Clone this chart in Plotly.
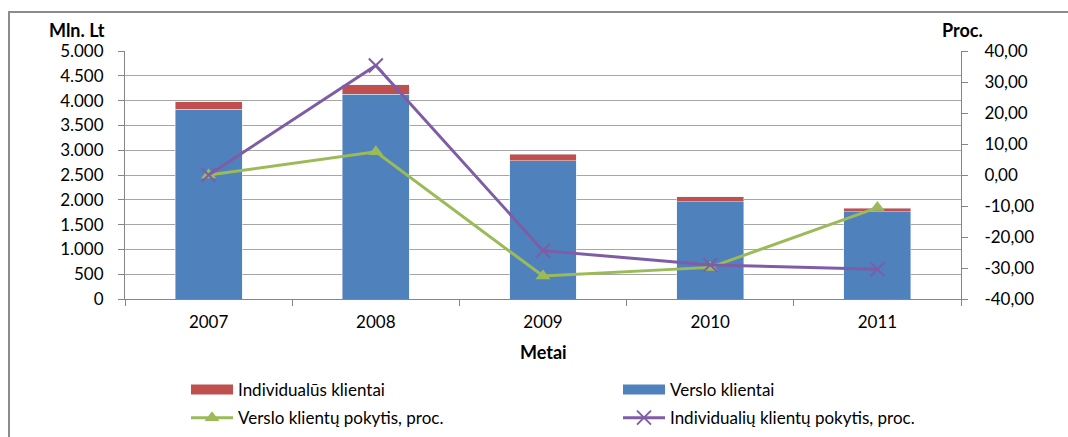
import plotly.graph_objects as go

years = ["2007", "2008", "2009", "2010", "2011"]
verslo = [3830, 4127, 2788, 1956, 1760]
individualus = [150, 188, 135, 107, 69]
verslo_pokytis = [0.0, 7.5, -32.6, -29.8, -10.5]
individ_pokytis = [0.0, 35.3, -24.4, -29.0, -30.4]

left_ticks = [0, 500, 1000, 1500, 2000, 2500, 3000, 3500, 4000, 4500, 5000]
left_labels = ["0", "500", "1.000", "1.500", "2.000", "2.500", "3.000", "3.500", "4.000", "4.500", "5.000"]
right_ticks = [-40, -30, -20, -10, 0, 10, 20, 30, 40]
right_labels = ["-40,00", "-30,00", "-20,00", "-10,00", "0,00", "10,00", "20,00", "30,00", "40,00"]

BLUE = "#4F81BD"
RED = "#C0504D"
GREEN = "#9BBB59"
PURPLE = "#7F5DA6"
FONT = "Lato"
FS = 17

W, H = 1068, 437
L, R, T, B = 125, 107, 51, 138
PW = W - L - R
PH = H - T - B

fig = go.Figure()
fig.add_trace(go.Bar(x=years, y=verslo, marker_color=BLUE, width=0.4,
                     showlegend=False, name="Verslo klientai"))
fig.add_trace(go.Bar(x=years, y=individualus, marker_color=RED, width=0.4,
                     showlegend=False, name="Individualūs klientai"))
# legend entries for bars (wide swatches)
fig.add_trace(go.Scatter(x=[years[0]], y=[None], mode="lines",
                         line=dict(color=RED, width=10), name="Individualūs klientai",
                         legend="legend", legendgroup="a"))
fig.add_trace(go.Scatter(x=[years[0]], y=[None], mode="lines",
                         line=dict(color=BLUE, width=10), name="Verslo klientai",
                         legend="legend2", legendgroup="c"))
fig.add_trace(go.Scatter(x=years, y=verslo_pokytis, yaxis="y2", mode="lines+markers",
                         line=dict(color=GREEN, width=3),
                         marker=dict(symbol="triangle-up", size=13, color=GREEN),
                         name="Verslo klientų pokytis, proc.",
                         legend="legend", legendgroup="b"))
fig.add_trace(go.Scatter(x=years, y=individ_pokytis, yaxis="y2", mode="lines+markers",
                         line=dict(color=PURPLE, width=3),
                         marker=dict(symbol="x-thin", size=14, color=PURPLE,
                                     line=dict(color=PURPLE, width=2)),
                         name="Individualių klientų pokytis, proc.",
                         legend="legend2", legendgroup="d"))

legend_common = dict(orientation="v", xref="container", yref="container",
                     xanchor="left", y=1 - 372 / H, yanchor="top",
                     traceorder="grouped", tracegroupgap=3, itemwidth=42,
                     font=dict(size=FS), bgcolor="rgba(0,0,0,0)")

fig.update_layout(
    width=W, height=H,
    margin=dict(l=L, r=R, t=T, b=B, autoexpand=False),
    paper_bgcolor="white", plot_bgcolor="white",
    barmode="stack",
    font=dict(family=FONT, size=FS, color="#000000"),
    xaxis=dict(type="category", tickson="boundaries", ticks="outside", ticklen=6,
               tickcolor="#868686", showline=True, linecolor="#868686", linewidth=1,
               showgrid=False, tickfont=dict(size=FS), range=[-0.5, 4.5],
               ticklabelstandoff=8),
    yaxis=dict(range=[0, 5000], tickvals=left_ticks, ticktext=left_labels,
               ticks="outside", ticklen=6, tickcolor="#868686",
               showline=True, linecolor="#868686", linewidth=1,
               showgrid=True, gridcolor="#A6A6A6", gridwidth=1, zeroline=False,
               tickfont=dict(size=FS), ticklabelstandoff=11),
    yaxis2=dict(range=[-40, 40], tickvals=right_ticks, ticktext=right_labels,
                overlaying="y", side="right", ticks="outside", ticklen=6,
                tickcolor="#868686", showline=True, linecolor="#868686", linewidth=1,
                showgrid=False, zeroline=False, tickfont=dict(size=FS),
                ticklabelstandoff=13),
    legend=dict(x=186 / W, **legend_common),
    legend2=dict(x=618 / W, **legend_common),
    showlegend=True,
)

fig.add_annotation(text="<b>Mln. Lt</b>", xref="paper", yref="paper",
                   x=(77 - L) / PW, y=(T + PH - 30) / PH, showarrow=False,
                   font=dict(size=18), xanchor="center", yanchor="middle")
fig.add_annotation(text="<b>Proc.</b>", xref="paper", yref="paper",
                   x=(962 - L) / PW, y=(T + PH - 30) / PH, showarrow=False,
                   font=dict(size=18), xanchor="center", yanchor="middle")
fig.add_annotation(text="<b>Metai</b>", xref="paper", yref="paper",
                   x=(543 - L) / PW, y=(T + PH - 352) / PH, showarrow=False,
                   font=dict(size=18), xanchor="center", yanchor="middle")

# outer chart border (only left and top visible)
fig.add_shape(type="rect", xref="paper", yref="paper",
              x0=(9 - L) / PW, x1=(1090 - L) / PW,
              y0=(T + PH - 460) / PH, y1=(T + PH - 12) / PH,
              line=dict(color="#8C8C8C", width=2), fillcolor="rgba(0,0,0,0)",
              layer="below")

fig.write_html("out.html")
